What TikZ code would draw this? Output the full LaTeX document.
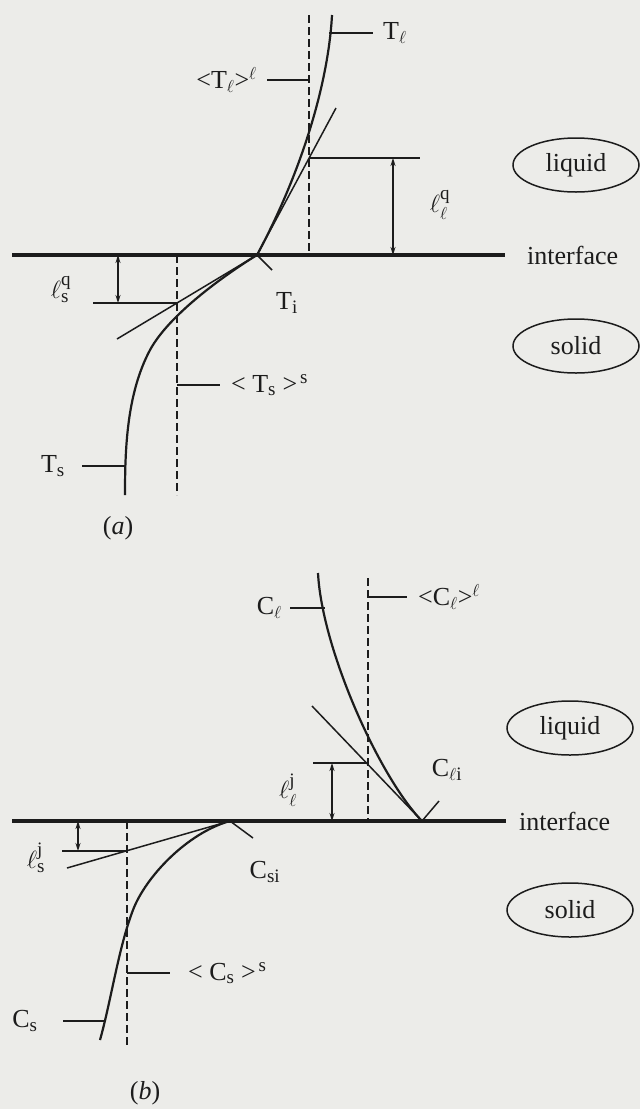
\documentclass[tikz,border=0pt]{standalone}
\usepackage{fontspec}
\setmainfont{Liberation Serif}
\usepackage{amsmath}
\DeclareMathSizes{26}{26}{19}{14}
\usetikzlibrary{arrows.meta,shapes.geometric}
\definecolor{paper}{RGB}{236,236,233}
\definecolor{ink}{RGB}{28,28,28}
\begin{document}
\begin{tikzpicture}[x=1pt,y=-1pt,
  curve/.style={draw=ink, line width=2.2pt},
  thinline/.style={draw=ink, line width=1.5pt},
  iface/.style={draw=ink, line width=3.8pt},
  dashline/.style={draw=ink, line width=1.6pt, dash pattern=on 8pt off 4pt},
  dimarrow/.style={draw=ink, line width=1.3pt, {Stealth[length=8pt,width=5pt]}-{Stealth[length=8pt,width=5pt]}},
  lab/.style={font=\fontsize{26}{30}\selectfont, text=ink, inner sep=0pt},
  region/.style={ellipse, draw=ink, line width=1.5pt, minimum width=126pt, minimum height=54pt, inner sep=0pt, font=\fontsize{26}{30}\selectfont, text=ink}]
\fill[paper] (0,0) rectangle (640,1109);
\useasboundingbox (0,0) rectangle (640,1109);

% ================= (a) =================
\coordinate (ifaL) at (12,255);
\coordinate (ifaR) at (505,255);
\coordinate (Ia) at (257,255);
\coordinate (TlTop) at (332,15);
\coordinate (tanLa) at (336,108);
\coordinate (dLaTop) at (309,15);
\coordinate (dLaBot) at (309,255);
\coordinate (TlT1) at (329,33);
\coordinate (TlT2) at (373,33);
\coordinate (avLa1) at (267,80);
\coordinate (avLa2) at (309,80);
\coordinate (hLa1) at (309,158);
\coordinate (hLa2) at (420,158);
\coordinate (arLa1) at (393,158);
\coordinate (arLa2) at (393,255);
\coordinate (SaMid) at (150,350);
\coordinate (SaBot) at (125,495);
\coordinate (tanSa) at (117,339);
\coordinate (dSaTop) at (177,255);
\coordinate (dSaBot) at (177,495);
\coordinate (hSa1) at (93,303);
\coordinate (hSa2) at (177,303);
\coordinate (arSa1) at (118,255);
\coordinate (arSa2) at (118,303);
\coordinate (TiT) at (272,270);
\coordinate (avSa1) at (177,385);
\coordinate (avSa2) at (220,385);
\coordinate (TsT1) at (82,466);
\coordinate (TsT2) at (125,466);

\draw[iface] (ifaL) -- (ifaR);
\draw[curve] (Ia) .. controls (297,181) and (328,90) .. (TlTop);
\draw[thinline] (Ia) -- (tanLa);
\draw[dashline] (dLaTop) -- (dLaBot);
\draw[thinline] (TlT1) -- (TlT2);
\draw[thinline] (avLa1) -- (avLa2);
\draw[thinline] (hLa1) -- (hLa2);
\draw[dimarrow] (arLa1) -- (arLa2);

\draw[curve] (Ia) .. controls (223,276) and (169,315) .. (SaMid)
             .. controls (126.5,394) and (125,450) .. (SaBot);
\draw[thinline] (Ia) -- (tanSa);
\draw[dashline] (dSaTop) -- (dSaBot);
\draw[thinline] (hSa1) -- (hSa2);
\draw[dimarrow] (arSa1) -- (arSa2);
\draw[thinline] (Ia) -- (TiT);
\draw[thinline] (avSa1) -- (avSa2);
\draw[thinline] (TsT1) -- (TsT2);

\node[lab, anchor=west] (TlLab) at (383,33) {$\text{T}_{\ell}$};
\node[lab, anchor=east] (avTlLab) at (257,80) {$\text{<T}_{\ell}\text{>}^{\ell}$};
\node[lab] (llqLab) at (440,205) {$\ell^{\text{q}}_{\ell}$};
\node[lab, anchor=west] (ifaceA) at (527,255) {interface};
\node[region] (liqA) at (576,165) {liquid};
\node[region] (solA) at (576,346) {solid};
\node[lab] (lsqLab) at (61,290) {$\ell^{\text{q}}_{\text{s}}$};
\node[lab] (TiLab) at (287,303) {$\text{T}_{\text{i}}$};
\node[lab, anchor=west] (avTsLab) at (231,385) {$\text{< T}_{\text{s}}\text{ >}^{\,\text{s}}$};
\node[lab] (TsLab) at (53,466) {$\text{T}_{\text{s}}$};
\node[lab] (capA) at (118,528) {(\textit{a})};

% ================= (b) =================
\coordinate (ifbL) at (12,821);
\coordinate (ifbR) at (506,821);
\coordinate (Ib) at (422,821);
\coordinate (ClTop) at (318,573);
\coordinate (tanLb) at (312,706);
\coordinate (dLbTop) at (368,578);
\coordinate (dLbBot) at (368,821);
\coordinate (ClT1) at (290,608);
\coordinate (ClT2) at (325,608);
\coordinate (avLb1) at (368,597);
\coordinate (avLb2) at (407,597);
\coordinate (hLb1) at (313,763);
\coordinate (hLb2) at (368,763);
\coordinate (arLb1) at (332,763);
\coordinate (arLb2) at (332,821);
\coordinate (CliT) at (439,801);
\coordinate (Jb) at (230,821);
\coordinate (SbMid) at (133,910);
\coordinate (SbBot) at (100,1040);
\coordinate (tanSb) at (67,868);
\coordinate (dSbTop) at (127,821);
\coordinate (dSbBot) at (127,1048);
\coordinate (hSb1) at (62,851);
\coordinate (hSb2) at (127,851);
\coordinate (arSb1) at (78,821);
\coordinate (arSb2) at (78,851);
\coordinate (CsiT) at (253,838);
\coordinate (avSb1) at (127,973);
\coordinate (avSb2) at (170,973);
\coordinate (CsT1) at (63,1021);
\coordinate (CsT2) at (105,1021);

\draw[iface] (ifbL) -- (ifbR);
\draw[curve] (Ib) .. controls (380,778) and (322,650) .. (ClTop);
\draw[thinline] (Ib) -- (tanLb);
\draw[dashline] (dLbTop) -- (dLbBot);
\draw[thinline] (ClT1) -- (ClT2);
\draw[thinline] (avLb1) -- (avLb2);
\draw[thinline] (hLb1) -- (hLb2);
\draw[dimarrow] (arLb1) -- (arLb2);
\draw[thinline] (Ib) -- (CliT);

\draw[curve] (Jb) .. controls (187,833) and (145.5,877) .. (SbMid)
             .. controls (118.7,947) and (110.9,1001.5) .. (SbBot);
\draw[thinline] (Jb) -- (tanSb);
\draw[dashline] (dSbTop) -- (dSbBot);
\draw[thinline] (hSb1) -- (hSb2);
\draw[dimarrow] (arSb1) -- (arSb2);
\draw[thinline] (Jb) -- (CsiT);
\draw[thinline] (avSb1) -- (avSb2);
\draw[thinline] (CsT1) -- (CsT2);

\node[lab, anchor=east] (ClLab) at (282,608) {$\text{C}_{\ell}$};
\node[lab, anchor=west] (avClLab) at (418,597) {$\text{<C}_{\ell}\text{>}^{\ell}$};
\node[region] (liqB) at (570,728) {liquid};
\node[lab] (CliLab) at (447,770) {$\text{C}_{\ell\text{i}}$};
\node[lab] (lljLab) at (288,790) {$\ell^{\text{j}}_{\ell}$};
\node[lab, anchor=west] (ifaceB) at (519,821) {interface};
\node[lab] (lsjLab) at (36,858) {$\ell^{\text{j}}_{\text{s}}$};
\node[lab] (CsiLab) at (265,872) {$\text{C}_{\text{si}}$};
\node[region] (solB) at (570,910) {solid};
\node[lab, anchor=west] (avCsLab) at (188,973) {$\text{< C}_{\text{s}}\text{ >}^{\,\text{s}}$};
\node[lab] (CsLab) at (25,1021) {$\text{C}_{\text{s}}$};
\node[lab] (capB) at (145,1093) {(\textit{b})};
\end{tikzpicture}
\end{document}
